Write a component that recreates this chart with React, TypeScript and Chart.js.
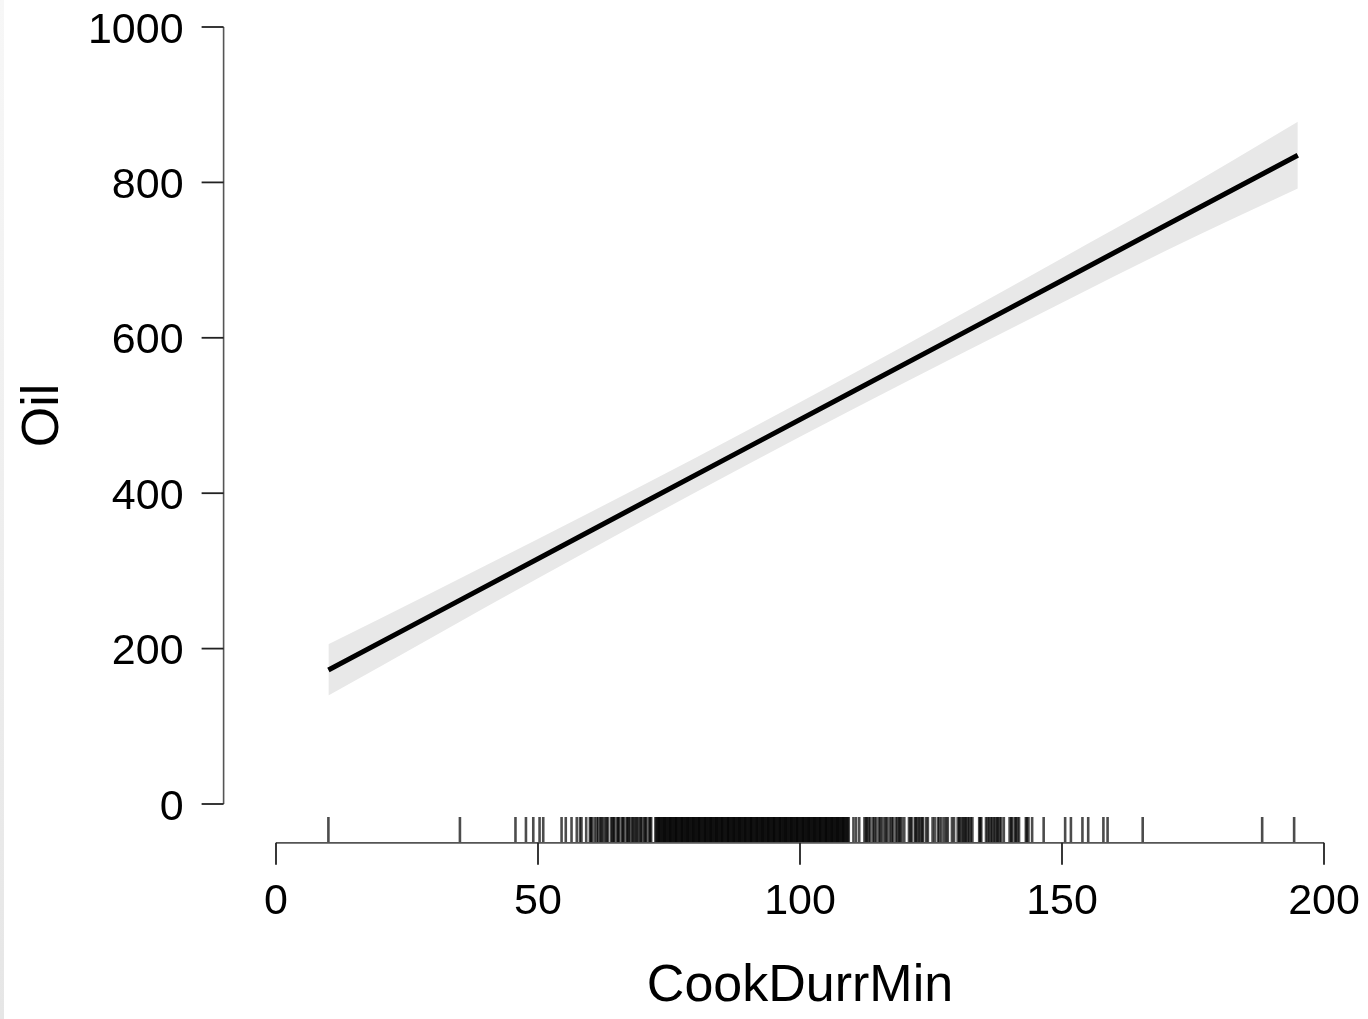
import React, { useEffect, useRef } from "react";
import { Chart, registerables } from "chart.js";

Chart.register(...registerables);

// Fitted effect of CookDurrMin on Oil with confidence band
const xGrid = [10, 30, 50, 70, 90, 110, 130, 150, 170, 195];
const fitValues = [172.5, 244.1, 315.7, 387.4, 459.0, 530.6, 602.2, 673.8, 745.5, 835.0];
const lowerValues = [139.5, 215.4, 290.5, 364.6, 437.0, 507.8, 577.0, 645.1, 712.6, 792.0];
const upperValues = [205.5, 272.8, 340.9, 410.2, 481.0, 553.4, 627.4, 702.5, 778.4, 878.0];

// Observed CookDurrMin values (rug)
const rugValues = [
  10.0, 35.1, 45.7, 47.7, 49.1, 50.3, 51.0, 54.5, 55.3, 56.4, 57.4, 58.0, 58.3,
  59.2, 59.9, 60.3, 60.8, 61.5, 61.9, 62.4, 62.8, 63.3, 63.9, 64.2, 64.6, 65.1, 65.5,
  66.0, 66.4, 66.9, 67.3, 67.6, 68.2, 68.5, 69.0, 69.4, 69.9, 70.3, 70.7, 71.2, 71.6,
  72.4, 72.8, 73.1, 73.5, 73.9, 74.2, 74.6, 75.0, 75.3, 75.7, 76.1, 76.4, 76.8, 77.2,
  77.5, 77.9, 78.3, 78.6, 79.0, 79.4, 79.7, 80.1, 80.5, 80.8, 81.2, 81.6, 81.9, 82.3,
  82.7, 83.0, 83.4, 83.8, 84.1, 84.5, 84.9, 85.2, 85.6, 86.0, 86.3, 86.7, 87.1, 87.4,
  87.8, 88.2, 88.5, 88.9, 89.3, 89.6, 90.0, 90.4, 90.7, 91.1, 91.5, 91.8, 92.2, 92.6,
  92.9, 93.3, 93.7, 94.0, 94.4, 94.8, 95.1, 95.5, 95.9, 96.2, 96.6, 97.0, 97.3, 97.7,
  98.1, 98.4, 98.8, 99.2, 99.5, 99.9, 100.3, 100.6, 101.0, 101.4, 101.7, 102.1, 102.5,
  102.8, 103.2, 103.6, 103.9, 104.3, 104.7, 105.0, 105.4, 105.8, 106.1, 106.5, 106.9,
  107.2, 107.6, 108.0, 108.3, 108.7, 109.1,
  60.1, 61.2, 62.1, 63.1, 64.4, 65.3, 66.2, 67.1, 68.0, 68.8, 69.6, 70.5, 71.4,
  72.6, 73.0, 73.3, 73.7, 74.1, 74.4, 74.8, 75.2, 75.5, 75.9, 76.3, 76.6, 77.0, 77.4,
  77.7, 78.1, 78.5, 78.8, 79.2, 79.6, 79.9, 80.3, 80.7, 81.0, 81.4, 81.8, 82.1, 82.5,
  82.9, 83.2, 83.6, 84.0, 84.3, 84.7, 85.1, 85.4, 85.8, 86.2, 86.5, 86.9, 87.3, 87.6,
  88.0, 88.4, 88.7, 89.1, 89.5, 89.8, 90.2, 90.6, 90.9, 91.3, 91.7, 92.0, 92.4, 92.8,
  93.1, 93.5, 93.9, 94.2, 94.6, 95.0, 95.3, 95.7, 96.1, 96.4, 96.8, 97.2, 97.5, 97.9,
  98.3, 98.6, 99.0, 99.4, 99.7, 100.1, 100.5, 100.8, 101.2, 101.6, 101.9, 102.3, 102.7,
  103.0, 103.4, 103.8, 104.1, 104.5, 104.9, 105.2, 105.6, 106.0, 106.3, 106.7, 107.1,
  107.4, 107.8, 108.2, 108.5, 108.9, 109.3,
  110.2, 110.7, 111.3, 112.3, 112.8, 113.4, 113.9, 114.5, 115.0, 115.6, 116.1, 116.7,
  117.2, 117.8, 118.3, 118.9, 119.4, 119.9, 120.8, 121.3, 121.9, 122.4, 123.0, 123.5,
  124.1, 125.3, 125.7, 126.6, 127.0, 127.9, 128.2, 129.0, 130.1, 130.6, 131.2, 131.7,
  132.3, 132.9, 134.2, 134.6, 135.5, 136.1, 136.7, 137.3, 137.8, 138.4, 138.9, 140.0,
  140.5, 141.2, 141.8, 143.1, 143.6, 144.3,
  112.6, 113.1, 114.2, 115.3, 116.4, 117.5, 118.6, 119.1, 121.1, 122.1, 122.7, 123.3,
  124.4, 126.3, 127.5, 129.4, 130.4, 131.0, 131.5, 132.0, 132.6, 134.4, 135.8, 136.4,
  137.0, 137.6, 138.1, 140.3, 141.0, 141.5, 143.3,
  146.5, 150.6, 151.7, 153.9, 155.0, 157.9, 158.7, 165.4, 188.2, 194.3,
];

const xTicks = [0, 50, 100, 150, 200];
const yTicks = [0, 200, 400, 600, 800, 1000];
const xTitle = "CookDurrMin";
const yTitle = "Oil";

const FONT = '"Liberation Sans", Arial, Helvetica, sans-serif';

const axesPlugin = {
  id: "rAxes",
  beforeDraw(chart: any) {
    const ctx = chart.ctx;
    ctx.save();
    const g = ctx.createLinearGradient(0, 0, 0, chart.height);
    g.addColorStop(0, "#f7f7f7");
    g.addColorStop(1, "#e6e6e6");
    ctx.fillStyle = g;
    ctx.fillRect(0, 0, 4, chart.height);
    ctx.restore();
  },
  afterDraw(chart: any) {
    const ctx = chart.ctx;
    const xs = chart.scales.x;
    const ys = chart.scales.y;
    ctx.save();

    // Y axis
    const axX = chart.chartArea.left;
    const y0 = ys.getPixelForValue(yTicks[0]);
    const y1 = ys.getPixelForValue(yTicks[yTicks.length - 1]);
    ctx.strokeStyle = "#555";
    ctx.lineWidth = 1.6;
    ctx.beginPath();
    ctx.moveTo(axX, y0);
    ctx.lineTo(axX, y1);
    ctx.stroke();
    ctx.strokeStyle = "#222";
    ctx.lineWidth = 1.8;
    ctx.font = `43px ${FONT}`;
    ctx.fillStyle = "#000";
    ctx.textAlign = "right";
    ctx.textBaseline = "alphabetic";
    for (const t of yTicks) {
      const py = ys.getPixelForValue(t);
      ctx.beginPath();
      ctx.moveTo(axX - 22, py);
      ctx.lineTo(axX, py);
      ctx.stroke();
      ctx.fillText(String(t), axX - 40, py + 15.5);
    }

    // X axis
    const axY = ys.getPixelForValue(-50);
    const x0 = xs.getPixelForValue(xTicks[0]);
    const x1 = xs.getPixelForValue(xTicks[xTicks.length - 1]);
    ctx.strokeStyle = "#555";
    ctx.lineWidth = 1.6;
    ctx.beginPath();
    ctx.moveTo(x0, axY);
    ctx.lineTo(x1, axY);
    ctx.stroke();
    ctx.strokeStyle = "#222";
    ctx.lineWidth = 1.8;
    ctx.textAlign = "center";
    for (const t of xTicks) {
      const px = xs.getPixelForValue(t);
      ctx.beginPath();
      ctx.moveTo(px, axY);
      ctx.lineTo(px, axY + 22);
      ctx.stroke();
      ctx.fillText(String(t), px, axY + 71);
    }

    // Titles
    ctx.font = `52px ${FONT}`;
    ctx.textAlign = "center";
    ctx.fillText(xTitle, (x0 + x1) / 2, 1001);
    ctx.save();
    ctx.translate(58, (y0 + y1) / 2);
    ctx.rotate(-Math.PI / 2);
    ctx.fillText(yTitle, 0, 0);
    ctx.restore();

    ctx.restore();
  },
};

export default function App() {
  const ref = useRef<HTMLCanvasElement>(null);
  useEffect(() => {
    document.body.style.margin = "0";
    const canvas = ref.current;
    if (!canvas) return;
    const toPts = (ys: number[]) => xGrid.map((x, i) => ({ x, y: ys[i] }));
    const chart = new Chart(canvas, {
      type: "scatter",
      data: {
        datasets: [
          {
            label: "upper",
            data: toPts(upperValues),
            showLine: true,
            borderWidth: 0,
            borderColor: "rgba(0,0,0,0)",
            pointRadius: 0,
            backgroundColor: "#e8e8e8",
            fill: "+1",
            cubicInterpolationMode: "monotone",
            order: 3,
          } as any,
          {
            label: "lower",
            data: toPts(lowerValues),
            showLine: true,
            borderWidth: 0,
            borderColor: "rgba(0,0,0,0)",
            pointRadius: 0,
            fill: false,
            cubicInterpolationMode: "monotone",
            order: 4,
          } as any,
          {
            label: "fit",
            data: toPts(fitValues),
            showLine: true,
            borderColor: "#000",
            borderWidth: 5,
            pointRadius: 0,
            fill: false,
            order: 0,
          } as any,
          {
            label: "rug",
            data: rugValues.map((x) => ({ x, y: -33.5 })),
            showLine: false,
            pointStyle: "line",
            rotation: 90,
            pointRadius: 13,
            borderColor: "rgba(0,0,0,0.7)",
            pointBorderColor: "rgba(0,0,0,0.7)",
            borderWidth: 2.6,
            pointBorderWidth: 2.6,
            order: 1,
          } as any,
        ],
      },
      options: {
        animation: false,
        responsive: false,
        devicePixelRatio: 1,
        events: [],
        layout: { padding: { left: 223.6, right: 44, top: 27, bottom: 176.15 } },
        plugins: { legend: { display: false }, tooltip: { enabled: false } },
        scales: {
          x: { type: "linear", min: -10, max: 200, display: false },
          y: { type: "linear", min: -50, max: 1000, display: false },
        },
      } as any,
      plugins: [axesPlugin],
    });
    return () => chart.destroy();
  }, []);
  return (
    <div style={{ position: "absolute", left: 0, top: 0, width: 1368, height: 1019 }}>
      <canvas ref={ref} width={1368} height={1019} style={{ width: 1368, height: 1019 }} />
    </div>
  );
}
